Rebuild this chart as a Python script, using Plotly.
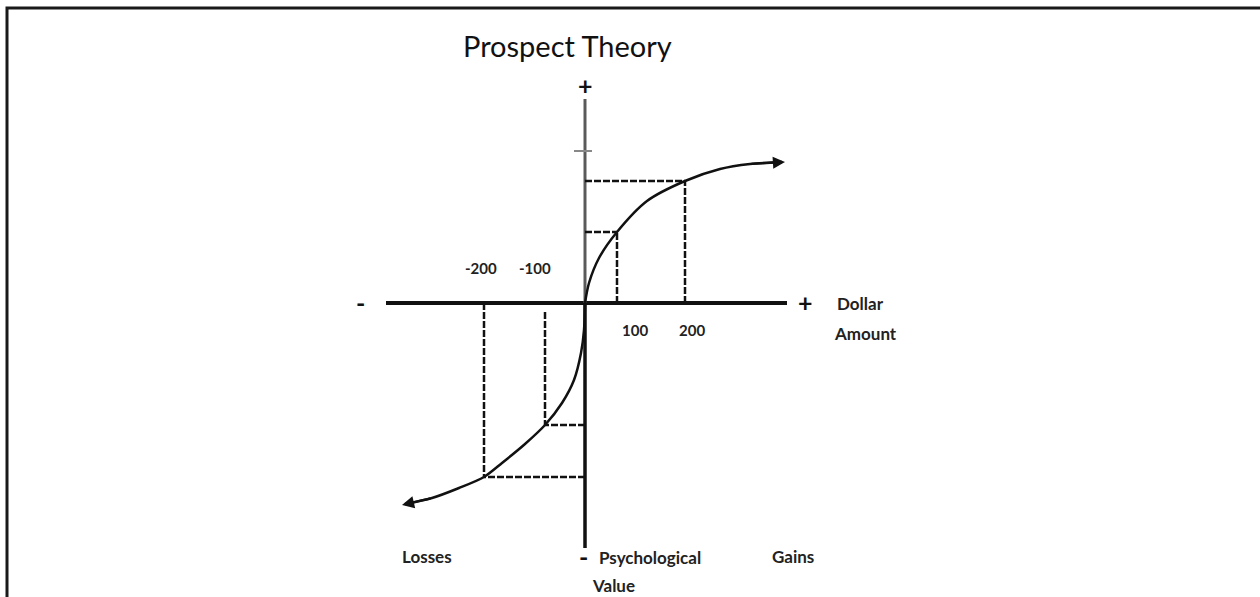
import plotly.graph_objects as go

# ---- data (diagram units: origin at the crossing of the axes, y up) ----
gain_x = [0, 4, 14, 32, 62, 100, 135, 165, 197]
gain_y = [0, 20, 45, 71, 102, 122, 134, 139, 141]
loss_x = [0, -1, -4, -11, -23, -40, -60, -83, -101, -126, -153, -180]
loss_y = [0, -27, -50, -77, -100, -122, -141, -160, -174, -185, -195, -201]

# reference points on the curve (+100, +200, -100, -200)
ref_x = [32, 100, -40, -101]
ref_y = [71, 122, -122, -174]
ref_labels = ["100", "200", "-100", "-200"]

title = "Prospect Theory"

X_AXIS = (-199, 202)
Y_AXIS = (-245, 204)

fig = go.Figure()

# axes of the diagram
fig.add_trace(go.Scatter(x=list(X_AXIS), y=[0, 0], mode="lines",
                         line=dict(color="#111111", width=4), hoverinfo="skip"))
fig.add_trace(go.Scatter(x=[0, 0], y=[0, Y_AXIS[1]], mode="lines",
                         line=dict(color="#5a5a5a", width=3), hoverinfo="skip"))
fig.add_trace(go.Scatter(x=[0, 0], y=[Y_AXIS[0], 0], mode="lines",
                         line=dict(color="#111111", width=3.5), hoverinfo="skip"))
# small tick on the upper axis
fig.add_trace(go.Scatter(x=[-11, 7], y=[152, 152], mode="lines",
                         line=dict(color="#888888", width=2), hoverinfo="skip"))

# dashed guide lines
for i, (rx, ry) in enumerate(zip(ref_x, ref_y)):
    vy0 = 0 if i != 2 else -9
    fig.add_trace(go.Scatter(x=[rx, rx], y=[vy0, ry], mode="lines",
                             line=dict(color="#111111", width=2.5, dash="7px,2px"),
                             hoverinfo="skip"))
    fig.add_trace(go.Scatter(x=[0, rx], y=[ry, ry], mode="lines",
                             line=dict(color="#111111", width=2.5, dash="7px,2px"),
                             hoverinfo="skip"))

# value curve
fig.add_trace(go.Scatter(x=gain_x, y=gain_y, mode="lines", line_shape="spline",
                         line=dict(color="#111111", width=2.5, smoothing=0.8),
                         hoverinfo="skip"))
fig.add_trace(go.Scatter(x=loss_x, y=loss_y, mode="lines", line_shape="spline",
                         line=dict(color="#111111", width=2.5, smoothing=0.8),
                         hoverinfo="skip"))

ann = []
# arrow heads at the ends of the curve
ann.append(dict(x=gain_x[-1] + 3, y=gain_y[-1], ax=gain_x[-2], ay=gain_y[-2],
                xref="x", yref="y", axref="x", ayref="y", text="",
                showarrow=True, arrowhead=2, arrowsize=1.1, arrowwidth=2.2,
                arrowcolor="#111111"))
ann.append(dict(x=loss_x[-1] - 3, y=loss_y[-1] - 1, ax=loss_x[-2], ay=loss_y[-2],
                xref="x", yref="y", axref="x", ayref="y", text="",
                showarrow=True, arrowhead=2, arrowsize=1.1, arrowwidth=2.2,
                arrowcolor="#111111"))

lab_font = dict(family="Lato", size=17, color="#222222")
num_font = dict(family="Lato", size=15, color="#222222")
sign_font = dict(family="Lato", size=25, color="#111111")


def txt(x, y, s, font, xanchor="center"):
    ann.append(dict(x=x, y=y, xref="x", yref="y", text=s, showarrow=False,
                    font=font, xanchor=xanchor, yanchor="middle"))


# title
txt(-18, 258, title, dict(family="Lato", size=29, color="#111111"))
# signs
txt(0, 218, "<b>+</b>", sign_font)
txt(220, 1, "<b>+</b>", sign_font)
txt(-225, 1, "<b>-</b>", sign_font)
txt(-2, -253, "<b>-</b>", sign_font)
# tick labels
txt(50, -27, "<b>" + ref_labels[0] + "</b>", num_font)
txt(107, -27, "<b>" + ref_labels[1] + "</b>", num_font)
txt(-50, 35, "<b>" + ref_labels[2] + "</b>", num_font)
txt(-104, 35, "<b>" + ref_labels[3] + "</b>", num_font)
# axis labels
txt(250, 0, "<b>Dollar</b>", lab_font, "left")
txt(247, -30, "<b>Amount</b>", lab_font, "left")
txt(12, -254, "<b>Psychological</b>", lab_font, "left")
txt(5, -282, "<b>Value</b>", lab_font, "left")
txt(185, -253, "<b>Gains</b>", lab_font, "left")
txt(-185, -253, "<b>Losses</b>", lab_font, "left")

fig.update_layout(
    width=1260, height=597,
    margin=dict(l=0, r=0, t=0, b=0),
    paper_bgcolor="white", plot_bgcolor="white",
    showlegend=False,
    xaxis=dict(range=[-585, 675], visible=False, fixedrange=True),
    yaxis=dict(range=[-294, 303], visible=False, fixedrange=True),
    annotations=ann,
    shapes=[dict(type="rect", xref="paper", yref="paper",
                 x0=7 / 1260, x1=1.05, y0=-0.05, y1=1 - 8 / 597,
                 line=dict(color="#1a1a1a", width=3))],
)

fig.write_html(
    "out.html",
    config={"displayModeBar": False},
    post_script="document.body.style.margin='0';document.body.style.overflow='hidden';",
)
